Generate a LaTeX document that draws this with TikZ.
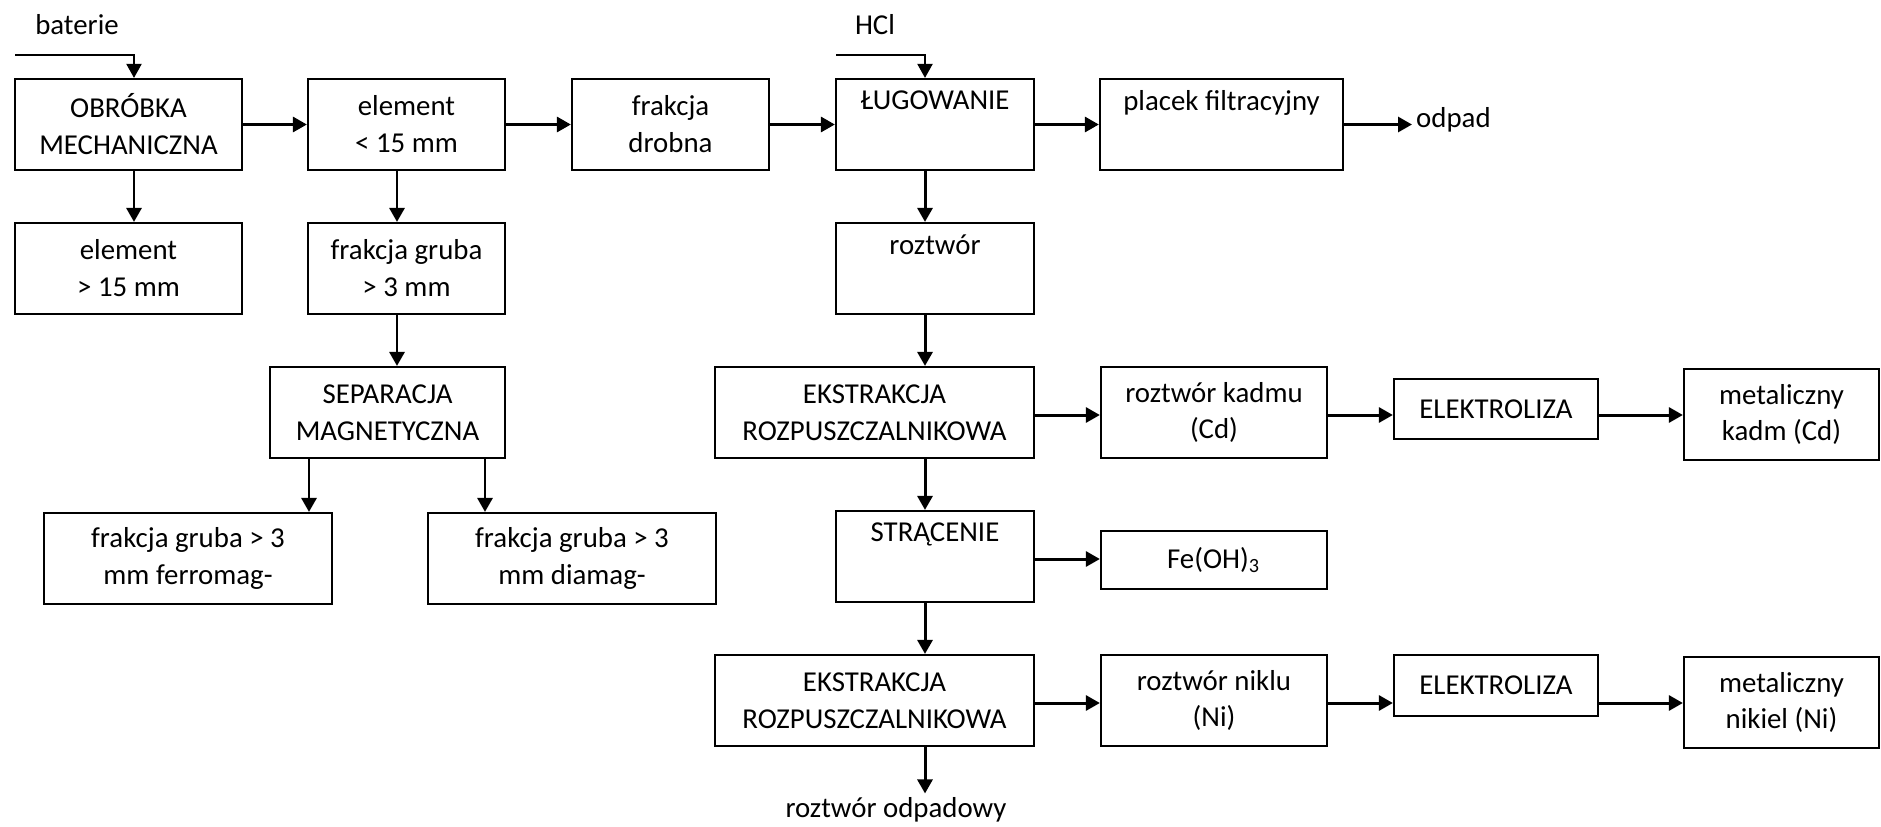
\documentclass[tikz,border=0pt]{standalone}
\usepackage{fontspec}
\setmainfont{Carlito}
\usetikzlibrary{arrows.meta}

\begin{document}
\begin{tikzpicture}[x=0.01cm,y=-0.01cm,
    box/.style={draw,line width=0.6pt,align=center,inner sep=0pt,
      minimum height=0.91cm,font=\fontsize{8.2}{10.5}\selectfont},
    flow/.style={-{Triangle[length=0.14cm,width=0.15cm]},line width=0.85pt},
    lbl/.style={inner sep=1pt,font=\fontsize{8.2}{10.5}\selectfont}]
    \useasboundingbox (0,0) rectangle (1881,827);

    % Columns and rows of the connectors
    \coordinate (c1) at (134,0);
    \coordinate (c2) at (397,0);
    \coordinate (c3) at (925,0);
    \coordinate (c4) at (309,0);
    \coordinate (c5) at (485,0);
    \coordinate (r1) at (0,415);
    \coordinate (r2) at (0,559);
    \coordinate (r3) at (0,703);

    % Inputs
    \node[lbl] (bat) at (77,25) {baterie};
    \node[lbl] (hcl) at (875,25) {HCl};
    \coordinate (batin) at (15,55);
    \coordinate (hclin) at (836,55);

    % Top row
    \node[box,minimum width=2.27cm] (obr) at (128.5,124.5) {OBRÓBKA\\MECHANICZNA};
    \node[box,minimum width=1.97cm] (el15) at (406.5,124.5) {element\\< 15 mm};
    \node[box,minimum width=1.97cm] (drob) at (670.5,124.5) {frakcja\\drobna};
    \node[box,minimum width=1.98cm] (lug) at (935,124.5) {ŁUGOWANIE\\\strut};
    \node[box,minimum width=2.43cm] (plac) at (1221.5,124.5) {placek filtracyjny\\\strut};
    \node[lbl,anchor=west] (odpad) at (1412,120) {odpad};

    % Coarse fractions
    \node[box,minimum width=2.27cm] (elg) at (128.5,268.5) {element\\> 15 mm};
    \node[box,minimum width=1.97cm] (gruba) at (406.5,268.5) {frakcja gruba\\> 3 mm};
    \node[box,minimum width=2.35cm] (sep) at (387.5,412.5) {SEPARACJA\\MAGNETYCZNA};
    \node[box,minimum width=2.88cm] (ferro) at (188,558.5) {frakcja gruba > 3\\mm ferromag-};
    \node[box,minimum width=2.88cm] (diam) at (572,558.5) {frakcja gruba > 3\\mm diamag-};

    % Solution line
    \node[box,minimum width=1.98cm] (roz) at (935,268.5) {roztwór\\\strut};
    \node[box,minimum width=3.19cm] (eks1) at (874.5,412.5) {EKSTRAKCJA\\ROZPUSZCZALNIKOWA};
    \node[box,minimum width=2.26cm] (kad) at (1214,412.5) {roztwór kadmu\\(Cd)};
    \node[box,minimum width=2.04cm,minimum height=0.6cm] (ele1) at (1496,409) {ELEKTROLIZA};
    \node[box,minimum width=1.95cm] (metk) at (1781.5,414.5) {metaliczny\\kadm (Cd)};
    \node[box,minimum width=1.98cm] (str) at (935,556.5) {STRĄCENIE\\\strut};
    \node[box,minimum width=2.26cm,minimum height=0.58cm] (fe) at (1214,560) {Fe(OH)\textsubscript{3}};
    \node[box,minimum width=3.19cm] (eks2) at (874.5,700.5) {EKSTRAKCJA\\ROZPUSZCZALNIKOWA};
    \node[box,minimum width=2.26cm] (nik) at (1214,700.5) {roztwór niklu\\(Ni)};
    \node[box,minimum width=2.04cm,minimum height=0.61cm] (ele2) at (1496,685.5) {ELEKTROLIZA};
    \node[box,minimum width=1.95cm] (metn) at (1781.5,702.5) {metaliczny\\nikiel (Ni)};
    \node[lbl] (odp) at (896,810) {roztwór odpadowy};

    % Arrows
    \draw[flow,line width=0.6pt] (batin) -| (obr.north -| c1);
    \draw[flow,line width=0.6pt] (hclin) -| (lug.north -| c3);
    \draw[flow] (obr) -- (el15);
    \draw[flow] (el15) -- (drob);
    \draw[flow] (drob) -- (lug);
    \draw[flow] (lug) -- (plac);
    \draw[flow] (plac.east) -- (plac.east -| odpad.west);
    \draw[flow] (obr.south -| c1) -- (elg.north -| c1);
    \draw[flow] (el15.south -| c2) -- (gruba.north -| c2);
    \draw[flow] (gruba.south -| c2) -- (sep.north -| c2);
    \draw[flow] (sep.south -| c4) -- (ferro.north -| c4);
    \draw[flow] (sep.south -| c5) -- (diam.north -| c5);
    \draw[flow] (lug.south -| c3) -- (roz.north -| c3);
    \draw[flow] (roz.south -| c3) -- (eks1.north -| c3);
    \draw[flow] (eks1.south -| c3) -- (str.north -| c3);
    \draw[flow] (str.south -| c3) -- (eks2.north -| c3);
    \draw[flow] (eks2.south -| c3) -- (odp.north -| c3);
    \draw[flow] (eks1.east |- r1) -- (kad.west |- r1);
    \draw[flow] (kad.east |- r1) -- (ele1.west |- r1);
    \draw[flow] (ele1.east |- r1) -- (metk.west |- r1);
    \draw[flow] (str.east |- r2) -- (fe.west |- r2);
    \draw[flow] (eks2.east |- r3) -- (nik.west |- r3);
    \draw[flow] (nik.east |- r3) -- (ele2.west |- r3);
    \draw[flow] (ele2.east |- r3) -- (metn.west |- r3);
\end{tikzpicture}
\end{document}
